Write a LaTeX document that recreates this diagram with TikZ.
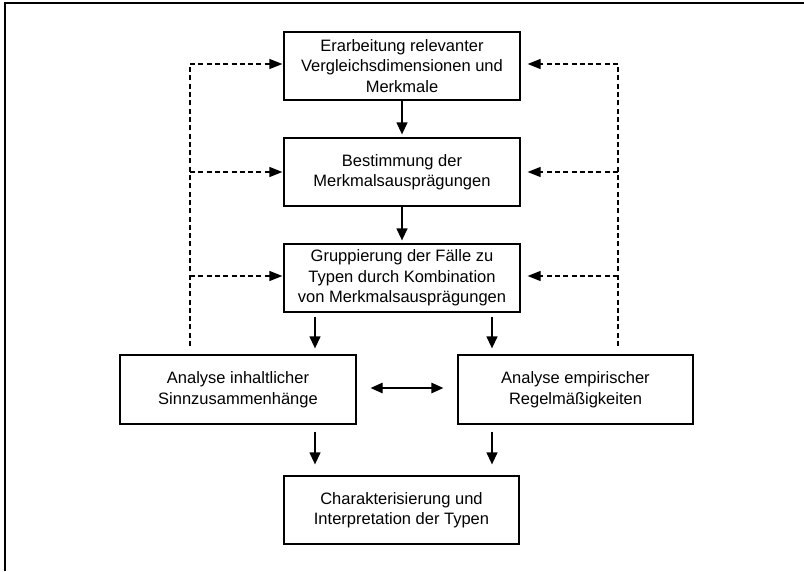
\documentclass[tikz,border=0pt]{standalone}
\usepackage{fontspec}
\setmainfont{Liberation Sans}
\usetikzlibrary{arrows.meta}
\tikzset{
  box/.style={draw=black, line width=1.3pt, fill=white, inner sep=0pt, align=center,
    font=\fontsize{16.5}{20.5}\selectfont, minimum height=68pt},
  tip/.style={Triangle[length=12pt,width=11pt]},
  arr/.style={line width=1.3pt, -{Triangle[length=12pt,width=11pt]}},
  darr/.style={line width=1.3pt, {Triangle[length=12pt,width=10.5pt]}-{Triangle[length=12pt,width=10.5pt]}},
  dsh/.style={line width=1.3pt, dash pattern=on 5pt off 3.3pt},
  dsharr/.style={dsh, -{Triangle[length=13pt,width=10pt]}}
}
\begin{document}
\begin{tikzpicture}[x=1pt,y=-1pt]
\useasboundingbox (0,0) rectangle (804,571);
% outer frame
\draw[line width=1.5pt] (5,571) -- (5,3) -- (804,3);
% boxes
\node[box, minimum width=236pt] (b1) at (402,66) {Erarbeitung relevanter\\Vergleichsdimensionen und\\Merkmale};
\node[box, minimum width=236pt] (b2) at (402,172) {Bestimmung der\\Merkmalsausprägungen};
\node[box, minimum width=236pt] (b3) at (402,278) {Gruppierung der Fälle zu\\Typen durch Kombination\\von Merkmalsausprägungen};
\node[box, minimum width=236pt, minimum height=69pt] (b4) at (238,389.5) {Analyse inhaltlicher\\Sinnzusammenhänge};
\node[box, minimum width=235pt, minimum height=69pt] (b5) at (575.5,389.5) {Analyse empirischer\\Regelmäßigkeiten};
\node[box, minimum width=235pt] (b6) at (401.5,510) {Charakterisierung und\\Interpretation der Typen};
% helper coordinates
\coordinate (cl) at (315,0);
\coordinate (cr) at (492,0);
\coordinate (dlt) at (190,64);
\coordinate (dlb) at (190,346);
\coordinate (drt) at (618,64);
\coordinate (drb) at (618,346);
% solid arrows
\draw[arr, shorten >=3pt] (b1) -- (b2);
\draw[arr, shorten >=3pt] (b2) -- (b3);
\draw[arr, shorten <=4pt, shorten >=6pt] (b3.south -| cl) -- (b4.north -| cl);
\draw[arr, shorten <=4pt, shorten >=6pt] (b3.south -| cr) -- (b5.north -| cr);
\draw[arr, shorten <=7pt, shorten >=11pt] (b4.south -| cl) -- (b6.north -| cl);
\draw[arr, shorten <=7pt, shorten >=11pt] (b5.south -| cr) -- (b6.north -| cr);
\draw[darr, shorten <=14pt, shorten >=14pt] ([yshift=1.5pt]b4.east) -- ([yshift=1.5pt]b5.west);
% dashed feedback lines
\draw[dsh] (dlb) -- (dlt);
\draw[dsh] (drb) -- (drt);
\draw[dsharr, shorten >=1pt] (dlt) -- (dlt -| b1.west);
\draw[dsharr, shorten >=1pt] (dlt |- b2.west) -- (b2.west);
\draw[dsharr, shorten >=1pt] ([yshift=2pt]dlt |- b3.west) -- ([yshift=2pt]b3.west);
\draw[dsharr, shorten >=7pt] (drt) -- (drt -| b1.east);
\draw[dsharr, shorten >=7pt] (drt |- b2.east) -- (b2.east);
\draw[dsharr, shorten >=7pt] ([yshift=2pt]drt |- b3.east) -- ([yshift=2pt]b3.east);
\end{tikzpicture}
\end{document}
